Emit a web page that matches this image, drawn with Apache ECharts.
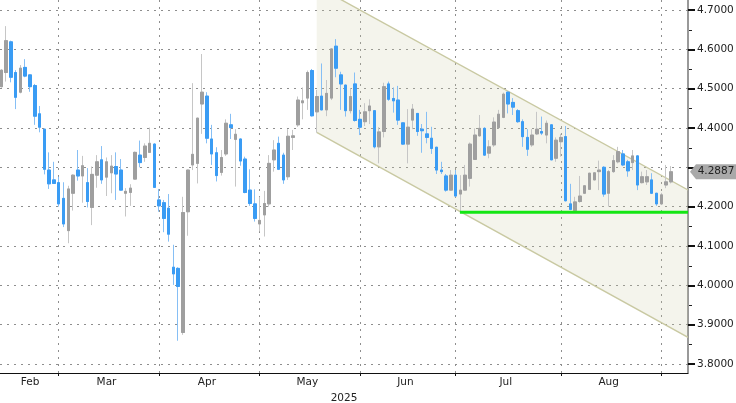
<!DOCTYPE html>
<html>
<head>
<meta charset="utf-8">
<script src="https://cdn.jsdelivr.net/npm/echarts@6/dist/echarts.min.js"></script>
<style>
html,body{margin:0;padding:0;background:#fff;}
#chart{width:736px;height:403px;}
</style>
</head>
<body>
<div id="chart"></div>
<script>
// Daily candles [open, close, low, high], first = 12 Feb 2025, trading-day index = position
const candles = [
[4.505,4.547,4.503,4.549],[4.541,4.622,4.518,4.659],[4.619,4.529,4.516,4.622],[4.541,4.478,4.448,4.547],
[4.491,4.552,4.488,4.560],[4.554,4.532,4.529,4.575],[4.535,4.505,4.492,4.536],[4.508,4.430,4.408,4.512],
[4.436,4.402,4.389,4.456],[4.397,4.295,4.282,4.398],[4.293,4.258,4.245,4.338],[4.268,4.259,4.258,4.314],
[4.261,4.207,4.200,4.276],[4.221,4.156,4.148,4.262],[4.139,4.245,4.107,4.253],[4.234,4.280,4.190,4.282],
[4.293,4.278,4.266,4.344],[4.278,4.304,4.210,4.329],[4.261,4.213,4.198,4.298],[4.198,4.282,4.153,4.302],
[4.280,4.314,4.248,4.331],[4.319,4.268,4.258,4.354],[4.275,4.314,4.227,4.325],[4.286,4.303,4.234,4.331],
[4.302,4.283,4.217,4.338],[4.293,4.242,4.241,4.321],[4.234,4.239,4.175,4.247],[4.236,4.247,4.202,4.257],
[4.270,4.338,4.269,4.340],[4.331,4.312,4.300,4.368],[4.325,4.354,4.314,4.361],[4.338,4.361,4.337,4.401],
[4.359,4.249,4.248,4.361],[4.217,4.202,4.187,4.245],[4.210,4.170,4.135,4.217],[4.196,4.130,4.111,4.232],
[4.046,4.029,4.001,4.103],[4.043,3.997,3.859,4.046],[3.880,4.185,3.874,4.225],[4.187,4.293,4.126,4.294],
[4.306,4.333,4.293,4.514],[4.310,4.425,4.259,4.426],[4.461,4.491,4.385,4.588],[4.481,4.374,4.361,4.491],
[4.372,4.334,4.306,4.408],[4.337,4.279,4.264,4.351],[4.287,4.325,4.279,4.344],[4.334,4.412,4.329,4.422],
[4.408,4.401,4.372,4.436],[4.371,4.384,4.251,4.397],[4.372,4.316,4.304,4.373],[4.321,4.236,4.234,4.327],
[4.242,4.208,4.202,4.295],[4.207,4.170,4.162,4.244],[4.156,4.165,4.137,4.225],[4.179,4.208,4.124,4.240],
[4.207,4.310,4.200,4.331],[4.319,4.344,4.289,4.369],[4.361,4.295,4.293,4.378],[4.331,4.268,4.258,4.337],
[4.276,4.379,4.268,4.397],[4.376,4.380,4.344,4.395],[4.408,4.471,4.403,4.480],[4.464,4.469,4.422,4.503],
[4.476,4.541,4.446,4.546],[4.546,4.431,4.429,4.550],[4.441,4.480,4.388,4.497],[4.481,4.446,4.445,4.564],
[4.446,4.488,4.430,4.522],[4.476,4.601,4.471,4.602],[4.608,4.552,4.529,4.626],[4.535,4.512,4.446,4.543],
[4.509,4.444,4.429,4.510],[4.444,4.480,4.437,4.501],[4.512,4.419,4.416,4.541],[4.422,4.402,4.382,4.446],
[4.416,4.441,4.405,4.463],[4.444,4.456,4.410,4.473],[4.444,4.352,4.348,4.445],[4.352,4.390,4.310,4.402],
[4.391,4.505,4.376,4.515],[4.512,4.473,4.469,4.518],[4.475,4.469,4.439,4.503],[4.471,4.420,4.408,4.507],
[4.413,4.359,4.357,4.414],[4.359,4.402,4.310,4.448],[4.420,4.448,4.397,4.461],[4.437,4.391,4.380,4.438],
[4.397,4.393,4.337,4.410],[4.385,4.376,4.361,4.441],[4.374,4.348,4.334,4.403],[4.351,4.293,4.283,4.352],
[4.293,4.289,4.283,4.314],[4.278,4.242,4.238,4.283],[4.242,4.280,4.241,4.293],[4.280,4.227,4.225,4.293],
[4.232,4.242,4.185,4.280],[4.242,4.280,4.241,4.306],[4.272,4.359,4.251,4.363],[4.320,4.382,4.319,4.399],
[4.380,4.399,4.378,4.433],[4.399,4.331,4.329,4.402],[4.336,4.352,4.323,4.369],[4.357,4.415,4.352,4.427],
[4.401,4.435,4.399,4.446],[4.427,4.486,4.425,4.490],[4.491,4.461,4.437,4.492],[4.465,4.453,4.433,4.476],
[4.444,4.416,4.413,4.448],[4.416,4.378,4.352,4.422],[4.376,4.346,4.329,4.397],[4.357,4.382,4.352,4.397],
[4.385,4.397,4.382,4.441],[4.391,4.387,4.382,4.429],[4.382,4.412,4.361,4.419],[4.408,4.319,4.318,4.410],
[4.323,4.369,4.314,4.376],[4.365,4.376,4.327,4.385],[4.378,4.215,4.213,4.405],[4.207,4.193,4.191,4.258],
[4.190,4.212,4.187,4.225],[4.213,4.227,4.210,4.278],[4.234,4.253,4.232,4.255],[4.244,4.285,4.243,4.286],
[4.268,4.286,4.267,4.288],[4.289,4.293,4.242,4.317],[4.300,4.232,4.225,4.303],[4.234,4.289,4.200,4.293],
[4.289,4.317,4.286,4.331],[4.314,4.340,4.310,4.352],[4.334,4.306,4.303,4.344],[4.314,4.291,4.276,4.319],
[4.312,4.329,4.293,4.344],[4.329,4.255,4.242,4.331],[4.261,4.276,4.259,4.289],[4.263,4.276,4.255,4.293],
[4.268,4.234,4.232,4.285],[4.234,4.207,4.202,4.235],[4.207,4.230,4.204,4.235],[4.255,4.263,4.247,4.306],
[4.263,4.2887,4.259,4.303]
];

// Month axis (trading-day index of first day of each month, label positions and names)
const monthStarts = [12, 33, 54, 75, 95, 117, 138];
const monthLabelPos = [6, 22, 43, 64, 84.5, 105.5, 127];
const monthNames = ['Feb', 'Mar', 'Apr', 'May', 'Jun', 'Jul', 'Aug'];
const yearLabel = '2025';

// Value axis ticks
const yTicks = [3.8, 3.9, 4.0, 4.1, 4.2, 4.3, 4.4, 4.5, 4.6, 4.7];
const yMinorTicks = [3.85, 3.95, 4.05, 4.15, 4.25, 4.35, 4.45, 4.55, 4.65];
const xRange = [-0.272, 143.59];
const yRange = [3.777, 4.7254];

// Trend channel: [index, upper, lower] at both ends
const channelStart = [65.95, 4.7603, 4.389];
const channelEnd = [143.59, 4.2423, 3.8678];
// Support line: [start index, end index, level]
const support = [95.9, 143.59, 4.1856];

const full = candles.map((c, i) => [i, c[0], c[1], c[2], c[3]]);
const bodies = candles.map((c, i) => [i, c[0], c[1], Math.min(c[0], c[1]), Math.max(c[0], c[1])]);
const lastClose = candles[candles.length - 1][1];

const FONT = 'DejaVu Sans';
const grid = {color: '#8e8e8e', width: 1, type: [2, 5]};

const chart = echarts.init(document.getElementById('chart'), null, {renderer: 'canvas'});
chart.setOption({
  animation: false,
  backgroundColor: '#ffffff',
  grid: {left: 0, right: 48, top: 0, bottom: 30, containLabel: false, outerBoundsMode: 'none'},
  xAxis: {
    type: 'value', min: xRange[0], max: xRange[1],
    name: yearLabel, nameLocation: 'middle', nameGap: 17,
    nameTextStyle: {color: '#222', fontSize: 10.5, fontFamily: FONT},
    axisLine: {show: true, onZero: false, lineStyle: {color: '#111', width: 1}},
    axisTick: {show: true, customValues: monthStarts, length: 3, lineStyle: {color: '#111'}},
    axisLabel: {
      customValues: monthLabelPos, margin: 4, color: '#222', fontSize: 10.5, fontFamily: FONT,
      formatter: v => { const i = monthLabelPos.indexOf(v); return i >= 0 ? monthNames[i] : ''; }
    },
    splitLine: {show: true, lineStyle: grid}
  },
  yAxis: {
    type: 'value', position: 'right', min: yRange[0], max: yRange[1], scale: true,
    axisLine: {show: true, onZero: false, lineStyle: {color: '#777', width: 1.5}},
    axisTick: {show: true, customValues: yTicks, length: 7, lineStyle: {color: '#111', width: 2}},
    axisLabel: {customValues: yTicks, margin: 9, color: '#222', fontSize: 10.5, fontFamily: FONT,
      // the tick label hidden behind the last-price tag is left out
      formatter: v => Math.abs(v - lastClose) < 0.03 ? '' : v.toFixed(4)},
    splitLine: {show: true, lineStyle: grid}
  },
  series: [
    {
      type: 'custom', z: 1, silent: true, clip: true,
      data: [[channelStart[0], channelStart[1], channelStart[2], channelEnd[0], channelEnd[1], channelEnd[2]]],
      encode: {x: [0, 3], y: [1, 2, 4, 5]},
      renderItem: (params, api) => {
        const a = api.coord([api.value(0), api.value(1)]);
        const b = api.coord([api.value(3), api.value(4)]);
        const c = api.coord([api.value(3), api.value(5)]);
        const d = api.coord([api.value(0), api.value(2)]);
        const edge = {stroke: '#c9c9a2', lineWidth: 1.4};
        return {type: 'group', children: [
          {type: 'polygon', shape: {points: [a, b, c, d]}, style: {fill: 'rgba(205,205,170,0.22)'}},
          {type: 'line', shape: {x1: a[0], y1: a[1], x2: b[0], y2: b[1]}, style: edge},
          {type: 'line', shape: {x1: d[0], y1: d[1], x2: c[0], y2: c[1]}, style: edge}
        ]};
      }
    },
    {
      // minor ticks (0.05 steps) on the right-hand value axis
      type: 'custom', z: 5, silent: true, clip: false,
      data: yMinorTicks.map(v => [xRange[1], v]),
      encode: {x: 0, y: 1},
      renderItem: (params, api) => {
        const p = api.coord([api.value(0), api.value(1)]);
        return {type: 'line', shape: {x1: p[0] + 1, y1: Math.round(p[1]) + 0.5, x2: p[0] + 4, y2: Math.round(p[1]) + 0.5},
          style: {stroke: '#222', lineWidth: 1}};
      }
    },
    {
      type: 'candlestick', z: 2, barWidth: 3,
      dimensions: ['idx', 'open', 'close', 'lowest', 'highest'],
      encode: {x: 'idx', y: ['open', 'close', 'lowest', 'highest']},
      data: full,
      itemStyle: {color: '#cdcdcd', color0: '#8ec4f6', borderColor: '#c6c6c6', borderColor0: '#86bff5', borderWidth: 1}
    },
    {
      type: 'candlestick', z: 3, barWidth: 3,
      dimensions: ['idx', 'open', 'close', 'lowest', 'highest'],
      encode: {x: 'idx', y: ['open', 'close', 'lowest', 'highest']},
      data: bodies,
      itemStyle: {color: '#9f9f9f', color0: '#3a9cf4', borderColor: '#9f9f9f', borderColor0: '#3a9cf4', borderWidth: 1}
    },
    {
      type: 'line', z: 4, symbol: 'none', silent: true, clip: false,
      data: [[support[0], support[2]], [support[1], support[2]]],
      lineStyle: {color: '#14e614', width: 3},
      markPoint: {
        silent: true, animation: false,
        symbol: 'path://M0,7.5 L6,0 L46,0 L46,15 L6,15 Z',
        symbolSize: [46, 15], symbolKeepAspect: false, symbolOffset: [25, 0],
        itemStyle: {color: '#a9a9a9'},
        label: {show: true, position: 'inside', offset: [3, 0], formatter: () => lastClose.toFixed(4),
          color: '#222', fontSize: 10.5, fontFamily: FONT},
        data: [{coord: [xRange[1], lastClose]}]
      }
    }
  ]
});
</script>
</body>
</html>
